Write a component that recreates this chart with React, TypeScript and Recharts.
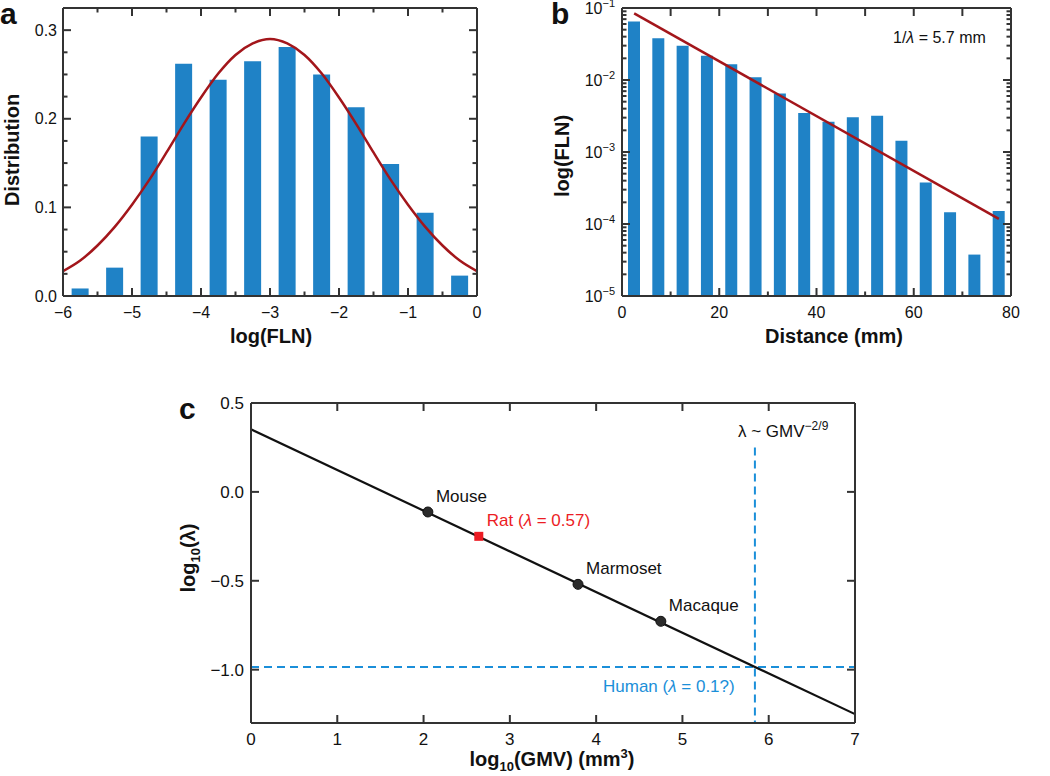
import React from "react"
import { Bar, ComposedChart, Line, ReferenceLine, Scatter, XAxis, YAxis } from "recharts"

// panel a: histogram of log(FLN) with a gaussian fit
const aBinCenters = [-5.75, -5.25, -4.75, -4.25, -3.75, -3.25, -2.75, -2.25, -1.75, -1.25, -0.75, -0.25]
const aBinShares = [0.0085, 0.032, 0.18, 0.262, 0.244, 0.265, 0.281, 0.25, 0.213, 0.149, 0.094, 0.023]
const aFitX = [-6, -5.75, -5.5, -5.25, -5, -4.75, -4.5, -4.25, -4, -3.75, -3.5, -3.25, -3, -2.75, -2.5, -2.25, -2, -1.75, -1.5, -1.25, -1, -0.75, -0.5, -0.25, 0]
const aFitY = [0.028, 0.04, 0.057, 0.078, 0.103, 0.131, 0.162, 0.194, 0.224, 0.251, 0.272, 0.285, 0.29, 0.285, 0.272, 0.251, 0.224, 0.194, 0.162, 0.131, 0.103, 0.078, 0.057, 0.04, 0.028]
const aXTicks = [-6, -5.5, -5, -4.5, -4, -3.5, -3, -2.5, -2, -1.5, -1, -0.5, 0]
const aYTicks = [0, 0.025, 0.05, 0.075, 0.1, 0.125, 0.15, 0.175, 0.2, 0.225, 0.25, 0.275, 0.3]

// panel b: FLN against distance, log axis
const bDistances = [2.5, 7.5, 12.5, 17.5, 22.5, 27.5, 32.5, 37.5, 42.5, 47.5, 52.5, 57.5, 62.5, 67.5, 72.5, 77.5]
const bFln = [0.065, 0.038, 0.03, 0.0217, 0.0166, 0.0109, 0.0065, 0.00347, 0.00263, 0.00305, 0.00318, 0.00143, 0.000377, 0.000146, 0.0000376, 0.000152]
const bFitStart = 0.0844
const bFitEnd = 0.000118
const bXTicks = [0, 10, 20, 30, 40, 50, 60, 70, 80]
const bDecades = [-5, -4, -3, -2]
const bYTicks = [...bDecades.flatMap((e) => [1, 2, 3, 4, 5, 6, 7, 8, 9].map((m) => Number((m * 10 ** e).toPrecision(3)))), 0.1]

// panel c: log10(lambda) against log10(GMV)
const speciesLabels = ["Mouse", "Rat (λ = 0.57)", "Marmoset", "Macaque"]
const speciesGmv = [2.05, 2.64, 3.79, 4.75]
const speciesLogLambda = [-0.113, -0.25, -0.52, -0.728]
const cFitGmv = [0, 7]
const cFitLogLambda = [0.352, -1.25]
const humanGmv = 5.84
const humanLogLambda = -0.985
const guideTop = 0.25
const cXTicks = [0, 1, 2, 3, 4, 5, 6, 7]
const cYTicks = [-1, -0.5, 0, 0.5]

const aRows = aFitX.map((x, i) => {
  const j = aBinCenters.indexOf(x)
  return { x, fit: aFitY[i], share: j >= 0 ? aBinShares[j] : null }
})
const bRows = bDistances.map((d, i) => ({
  d,
  fln: bFln[i],
  fit: i === 0 ? bFitStart : i === bDistances.length - 1 ? bFitEnd : null,
}))
const cSpecies = speciesLabels.map((name, i) => ({ name, x: speciesGmv[i], y: speciesLogLambda[i] }))
const cFit = cFitGmv.map((x, i) => ({ x, y: cFitLogLambda[i] }))

const FONT = '"Liberation Sans", Arial, sans-serif'
const AXIS = "#333333"
const BAR = "#1f82c6"
const FIT = "#a3161b"
const GUIDE = "#1b8fd9"
const axisLine = { stroke: AXIS, strokeWidth: 2 }

type Side = "bottom" | "top" | "left" | "right"

const minus = (s: string) => s.replace("-", "−")
const isInt = (v: number) => Math.abs(v - Math.round(v)) < 1e-9
const isTenth = (v: number) => Math.abs(v * 10 - Math.round(v * 10)) < 1e-6
const isDecade = (v: number) => isInt(Math.log10(v))

function withLambda(s: string) {
  const parts = s.split("λ")
  return parts.flatMap((p, i) =>
    i === 0 ? [p] : [<tspan key={i} fontStyle="italic">λ</tspan>, p]
  )
}

// ticks point into the plot; tickSize/tickMargin are 0 so x,y sit on the axis line
function makeTick(side: Side, major: (v: number) => boolean, label?: (v: number) => React.ReactNode, fontSize = 16, gap = 22) {
  return (props: any) => {
    const { x, y, payload } = props
    const v = payload.value as number
    const big = major(v)
    const len = big ? 8 : 4.5
    const t = label && big ? label(v) : null
    let l: React.ReactNode = null
    let txt: React.ReactNode = null
    if (side === "bottom") {
      l = <line x1={x} y1={y} x2={x} y2={y - len} />
      if (t != null)
        txt = (
          <text x={x} y={y + gap} textAnchor="middle">
            {t}
          </text>
        )
    } else if (side === "top") {
      l = <line x1={x} y1={y} x2={x} y2={y + len} />
    } else if (side === "left") {
      l = <line x1={x} y1={y} x2={x + len} y2={y} />
      if (t != null)
        txt = (
          <text x={x - gap} y={y} dy="0.35em" textAnchor="end">
            {t}
          </text>
        )
    } else {
      l = <line x1={x} y1={y} x2={x - len} y2={y} />
    }
    return (
      <g>
        <g stroke={AXIS} strokeWidth={2}>{l}</g>
        <g fill="#111" fontSize={fontSize} fontFamily={FONT}>{txt}</g>
      </g>
    )
  }
}

const tickBase = { tickSize: 0, tickMargin: 0, interval: 0 as const, tickLine: false, axisLine, allowDataOverflow: true }
const frame = { stroke: AXIS, strokeWidth: 2, ifOverflow: "visible" as const }

function PanelA() {
  return (
    <ComposedChart width={500} height={330} data={aRows} margin={{ top: 7, right: 0, bottom: 0, left: 0 }}>
      <XAxis {...tickBase} dataKey="x" type="number" domain={[-6, 0]} ticks={aXTicks} height={34}
        tick={makeTick("bottom", isInt, (v) => minus(String(v)))} />
      <XAxis {...tickBase} xAxisId="t" dataKey="x" orientation="top" type="number" domain={[-6, 0]} ticks={aXTicks} height={1}
        tick={makeTick("top", isInt)} />
      <YAxis {...tickBase} dataKey="share" type="number" domain={[0, 0.325]} ticks={aYTicks} width={63}
        tick={makeTick("left", isTenth, (v) => v.toFixed(1), 16, 6)} />
      <YAxis {...tickBase} yAxisId="r" dataKey="share" orientation="right" type="number" domain={[0, 0.325]} ticks={aYTicks} width={23}
        tick={makeTick("right", isTenth)} />
      <ReferenceLine y={0.325} {...frame} />
      <ReferenceLine x={0} {...frame} />
      <Bar dataKey="share" fill={BAR} barSize={17} isAnimationActive={false} />
      <Line dataKey="fit" type="monotone" stroke={FIT} strokeWidth={2.5} dot={false} isAnimationActive={false} />
    </ComposedChart>
  )
}

const decadeLabel = (v: number) => (
  <>
    10
    <tspan dy={-7} fontSize={11}>
      {minus(String(Math.round(Math.log10(v))))}
    </tspan>
  </>
)

function PanelB() {
  return (
    <ComposedChart width={550} height={330} data={bRows} margin={{ top: 7, right: 0, bottom: 0, left: 0 }}>
      <XAxis {...tickBase} dataKey="d" type="number" domain={[0, 80]} ticks={bXTicks} height={34}
        tick={makeTick("bottom", (v) => v % 20 === 0, (v) => String(v))} />
      <XAxis {...tickBase} xAxisId="t" dataKey="d" orientation="top" type="number" domain={[0, 80]} ticks={bXTicks} height={1}
        tick={makeTick("top", () => true)} />
      <YAxis {...tickBase} dataKey="fln" type="number" scale="log" domain={[1e-5, 0.1]} ticks={bYTicks} width={122}
        tick={makeTick("left", isDecade, decadeLabel, 16, 7)} />
      <YAxis {...tickBase} yAxisId="r" dataKey="fln" orientation="right" type="number" scale="log" domain={[1e-5, 0.1]} ticks={bYTicks} width={39}
        tick={makeTick("right", isDecade)} />
      <ReferenceLine y={0.1} {...frame} />
      <ReferenceLine x={80} {...frame} />
      <Bar dataKey="fln" fill={BAR} barSize={12} isAnimationActive={false} />
      <Line dataKey="fit" type="linear" connectNulls stroke={FIT} strokeWidth={2.5} dot={false} isAnimationActive={false} />
    </ComposedChart>
  )
}

const SpeciesMark = (p: any) => {
  const { cx, cy, payload } = p
  const rat = payload.name.startsWith("Rat")
  return (
    <g>
      {rat ? (
        <rect x={cx - 4.5} y={cy - 4.5} width={9} height={9} fill="#ec1c24" />
      ) : (
        <circle cx={cx} cy={cy} r={5} fill="#2b2b2b" stroke="#111" />
      )}
      <text x={cx + 8} y={cy - 10} fontSize={17} fontFamily={FONT} fill={rat ? "#ec1c24" : "#111"}>
        {withLambda(payload.name)}
      </text>
    </g>
  )
}

function PanelC() {
  return (
    <ComposedChart width={750} height={386} margin={{ top: 12, right: 0, bottom: 0, left: 0 }}>
      <XAxis {...tickBase} dataKey="x" type="number" domain={[0, 7]} ticks={cXTicks} height={53}
        tick={makeTick("bottom", () => true, (v) => String(v), 17, 22)} />
      <XAxis {...tickBase} xAxisId="t" dataKey="x" orientation="top" type="number" domain={[0, 7]} ticks={cXTicks} height={1}
        tick={makeTick("top", () => true)} />
      <YAxis {...tickBase} dataKey="y" type="number" domain={[-1.3, 0.5]} ticks={cYTicks} width={101}
        tick={makeTick("left", () => true, (v) => minus(v.toFixed(1)), 17, 7)} />
      <YAxis {...tickBase} yAxisId="r" dataKey="y" orientation="right" type="number" domain={[-1.3, 0.5]} ticks={cYTicks} width={45}
        tick={makeTick("right", () => true)} />
      <ReferenceLine y={0.5} {...frame} />
      <ReferenceLine x={7} {...frame} />
      <ReferenceLine y={humanLogLambda} stroke={GUIDE} strokeWidth={2} strokeDasharray="8 5" />
      <ReferenceLine
        segment={[
          { x: humanGmv, y: guideTop },
          { x: humanGmv, y: -1.3 },
        ]}
        stroke={GUIDE}
        strokeWidth={2}
        strokeDasharray="8 5"
      />
      <Line data={cFit} dataKey="y" type="linear" stroke="#111" strokeWidth={2.2} dot={false} isAnimationActive={false} />
      <Scatter data={cSpecies} dataKey="y" shape={SpeciesMark} isAnimationActive={false} />
    </ComposedChart>
  )
}

function Overlay() {
  const bold = { fontFamily: FONT, fontWeight: 700, fill: "#111" }
  return (
    <svg width={1050} height={776} style={{ position: "absolute", left: 0, top: 0, pointerEvents: "none" }}>
      <text x={0} y={24} fontSize={30} {...bold}>a</text>
      <text x={551} y={24} fontSize={30} {...bold}>b</text>
      <text x={179} y={419} fontSize={30} {...bold}>c</text>

      <text transform="translate(19,150) rotate(-90)" textAnchor="middle" fontSize={20} {...bold}>Distribution</text>
      <text x={271} y={343} textAnchor="middle" fontSize={20} {...bold}>log(FLN)</text>

      <text transform="translate(569,156) rotate(-90)" textAnchor="middle" fontSize={20} {...bold}>log(FLN)</text>
      <text x={834} y={343} textAnchor="middle" fontSize={20} {...bold}>Distance (mm)</text>
      <text x={893} y={43} fontSize={16} fontFamily={FONT} fill="#111">{withLambda("1/λ = 5.7 mm")}</text>

      <text transform="translate(195,558) rotate(-90)" textAnchor="middle" fontSize={20} {...bold}>
        log<tspan fontSize={13} dy={5}>10</tspan>
        <tspan dy={-5}>(λ)</tspan>
      </text>
      <text x={552} y={766} textAnchor="middle" fontSize={20} {...bold}>
        log<tspan fontSize={13} dy={5}>10</tspan>
        <tspan dy={-5}>(GMV) (mm</tspan>
        <tspan fontSize={13} dy={-8}>3</tspan>
        <tspan dy={8}>)</tspan>
      </text>

      <text x={738} y={437} fontSize={17} fontFamily={FONT} fill="#111">
        λ ~ GMV<tspan fontSize={12} dy={-7}>−2/9</tspan>
      </text>
      <text x={603} y={692} fontSize={17} fontFamily={FONT} fill={GUIDE}>{withLambda("Human (λ = 0.1?)")}</text>
    </svg>
  )
}

export default function App() {
  return (
    <div style={{ position: "absolute", left: 0, top: 0, width: 1050, height: 776, background: "#fff" }}>
      <div style={{ position: "absolute", left: 0, top: 0 }}>
        <PanelA />
      </div>
      <div style={{ position: "absolute", left: 500, top: 0 }}>
        <PanelB />
      </div>
      <div style={{ position: "absolute", left: 150, top: 390 }}>
        <PanelC />
      </div>
      <Overlay />
    </div>
  )
}
